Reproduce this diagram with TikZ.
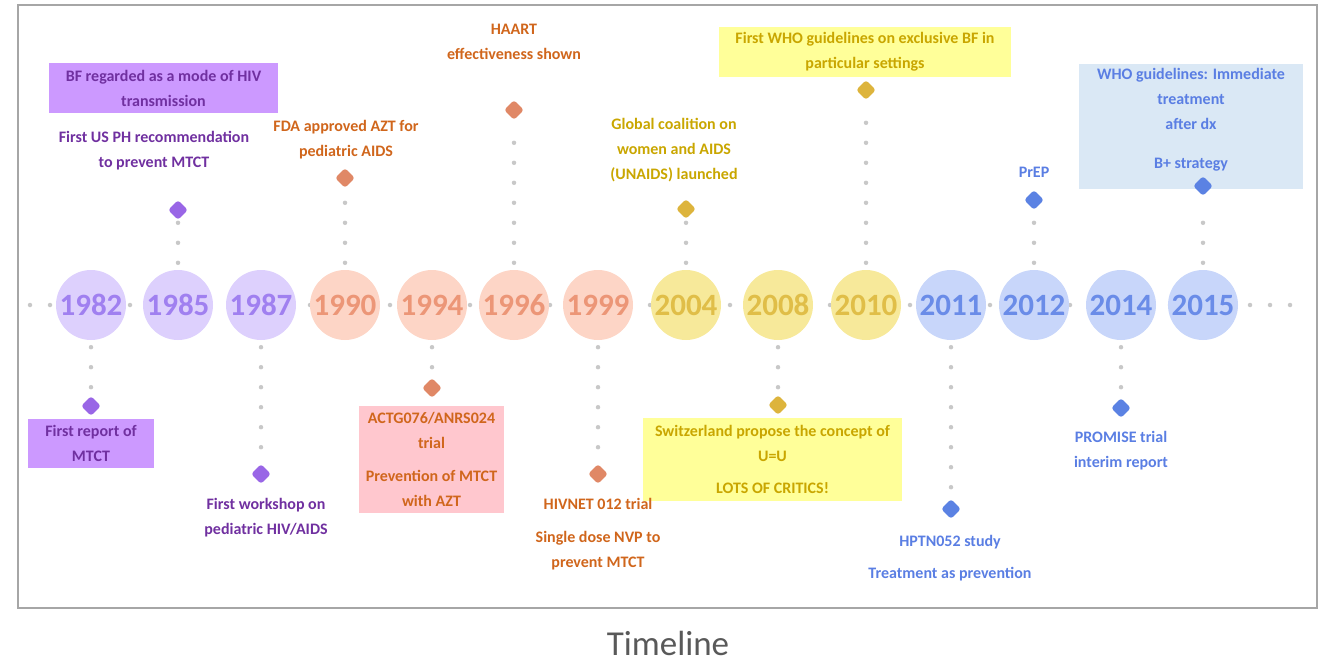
\documentclass[tikz,border=0pt]{standalone}
\usepackage{fontspec}
\setmainfont{Carlito}
\usetikzlibrary{shapes.geometric,positioning}

\definecolor{puC}{HTML}{DDD0FD}\definecolor{puY}{HTML}{A080F0}
\definecolor{puD}{HTML}{9966E6}\definecolor{puT}{HTML}{7030A0}
\definecolor{puB}{HTML}{CC99FF}
\definecolor{orC}{HTML}{FDD5C6}\definecolor{orY}{HTML}{EC9677}
\definecolor{orD}{HTML}{E08866}\definecolor{orT}{HTML}{D0661C}
\definecolor{pinkB}{HTML}{FFC7CE}
\definecolor{yeC}{HTML}{F7E99A}\definecolor{yeY}{HTML}{E0BE48}
\definecolor{yeD}{HTML}{DDB43C}\definecolor{yeT}{HTML}{C9A600}
\definecolor{yeB}{HTML}{FFFF99}
\definecolor{blC}{HTML}{C8D6FA}\definecolor{blY}{HTML}{6A8CE8}
\definecolor{blD}{HTML}{5B82E3}\definecolor{blT}{HTML}{5A7EE3}
\definecolor{blB}{HTML}{DAE8F5}
\definecolor{dotC}{HTML}{C8C8C8}\definecolor{frameC}{HTML}{A6A6A6}
\definecolor{capT}{HTML}{595959}

\newcommand{\lblfont}{\fontsize{16}{25}\selectfont\bfseries}
\newcommand{\yrfont}{\fontsize{31}{31}\selectfont\bfseries}

\begin{document}
\begin{tikzpicture}[x=1pt,y=-1pt,
    year/.style={circle,minimum size=70pt,inner sep=0pt,fill=#1C,text=#1Y,font=\yrfont},
    dia/.style={diamond,minimum size=20pt,inner sep=0pt,fill=#1D,rounded corners=3pt},
    lbl/.style={align=center,text=#1T,font=\lblfont,inner sep=0pt},
    tbox/.style={lbl=#1,fill=#1B},
    dotline/.style={draw=dotC,line width=4.5pt,line cap=round,dash pattern=on 0pt off 20pt,shorten <=7pt}]
    \useasboundingbox (0,0) rectangle (1327,663);
    \draw[frameC,line width=2pt] (18,5) rectangle (1317,608);
    \coordinate (hl) at (30,305);
    \coordinate (hr) at (1300,305);
    \draw[dotline,shorten <=0pt] (hl) -- (hr);
    \foreach \yr/\x/\c in {1982/91/pu,1985/178/pu,1987/261/pu,1990/345/or,1994/432/or,1996/514/or,1999/598/or,
        2004/686/ye,2008/778/ye,2010/866/ye,2011/951/bl,2012/1034/bl,2014/1121/bl,2015/1203/bl}
        \node[year=\c] (y\yr) at (\x,305) {\yr};

    \node[tbox=pu,minimum width=126pt,minimum height=49pt] (b1982) at (91,443.5) {First report of\\MTCT};
    \node[tbox=pu,minimum width=229pt,minimum height=50pt] (b1985) at (163.5,88) {BF regarded as a mode of HIV\\transmission};
    \node[lbl=or,fill=pinkB,minimum width=145pt,minimum height=107pt] (b1994) at (431.5,459.5)
        {ACTG076/ANRS024\\trial\\[8pt]Prevention of MTCT\\with AZT};
    \node[tbox=ye,minimum width=259pt,minimum height=83pt] (b2008) at (772.5,459.5)
        {Switzerland propose the concept of\\U=U\\[7pt]LOTS OF CRITICS!};
    \node[tbox=ye,minimum width=292pt,minimum height=50pt] (b2010) at (865,52)
        {First WHO guidelines on exclusive BF in\\particular settings};
    \node[tbox=bl,minimum width=224pt,minimum height=125pt] (b2015) at (1191,126.5)
        {WHO guidelines: Immediate\\treatment\\after dx\\[14pt]B+ strategy\rule[-16pt]{0pt}{16pt}};

    \foreach \yr/\x/\y/\c in {1982/91/406/pu,1985/178/210/pu,1987/261/474/pu,1990/345/178/or,1994/432/388/or,
        1996/514/110/or,1999/598/474/or,2004/686/209/ye,2008/778/405/ye,2010/866/90/ye,2011/951/509/bl,
        2012/1034/200/bl,2014/1121/408/bl,2015/1203/186/bl}
        \node[dia=\c] (d\yr) at (\x,\y) {};
    \foreach \yr in {1982,1985,1987,1990,1994,1999,2004,2008,2011,2012,2014}
        \draw[dotline] (y\yr) -- (d\yr);
    \draw[dotline,shorten >=12pt] (y1996) -- (d1996);
    \draw[dotline,shorten >=12pt] (y2010) -- (d2010);
    \draw[dotline,shorten >=12pt] (y2015) -- (d2015);

    \node[lbl=pu] (l1985) at (154,150.5) {First US PH recommendation\\to prevent MTCT};
    \node[lbl=pu] (l1987) at (266,517.5) {First workshop on\\pediatric HIV/AIDS};
    \node[lbl=or] (l1990) at (346,139.5) {FDA approved AZT for\\pediatric AIDS};
    \node[lbl=or] (l1996) at (514,41.5) {HAART\\effectiveness shown};
    \node[lbl=ye] (l2004) at (674,150.5) {Global coalition on\\women and AIDS\\(UNAIDS) launched};
    \node[lbl=or] (l1999) at (598,534.5) {HIVNET 012 trial\\[8pt]Single dose NVP to\\prevent MTCT};
    \node[lbl=bl] (l2011) at (950,558) {HPTN052 study\\[7pt]Treatment as prevention};
    \node[lbl=bl,above=12pt of d2012] (l2012) {PrEP};
    \node[lbl=bl,below=13pt of d2014] (l2014) {PROMISE trial\\interim report};

    \node[font=\fontsize{35}{35}\selectfont,text=capT,inner sep=0pt] (cap) at (668,643) {Timeline};
\end{tikzpicture}
\end{document}
